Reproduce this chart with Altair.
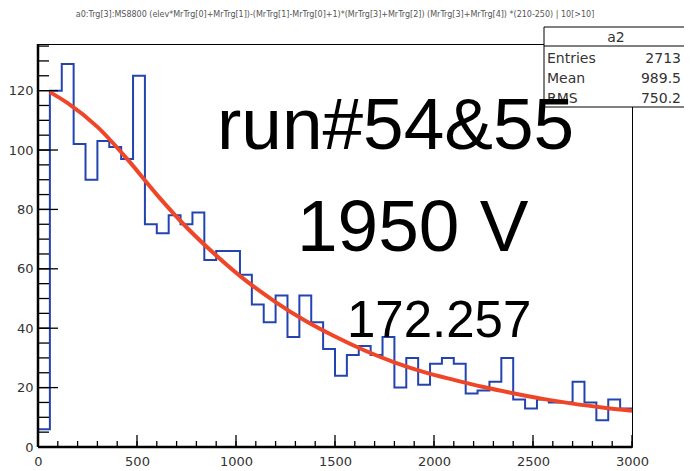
import altair as alt
import pandas as pd

# ---------------- data ----------------
bin_width = 60
counts = [6, 120, 129, 102, 90, 103, 101, 97, 125, 75,
          72, 78, 75, 79, 63, 66, 66, 58, 48, 42,
          51, 37, 51, 42, 33, 24, 31, 34, 31, 37,
          20, 30, 21, 28, 30, 28, 18, 19, 22, 30,
          16, 13, 16, 15, 15, 22, 15, 9, 16, 13]

fit_x = [60, 150, 300, 450, 600, 750, 900, 1050, 1200, 1350, 1500,
         1650, 1800, 1950, 2100, 2250, 2400, 2550, 2700, 2850, 3000]
fit_y = [119.5, 115.8, 107.8, 97.0, 85.0, 74.0, 64.5, 56.0, 48.8, 42.5, 37.2,
         32.5, 28.5, 25.2, 22.6, 20.2, 18.1, 16.2, 14.6, 13.3, 12.2]

x_label_values = [0, 500, 1000, 1500, 2000, 2500, 3000]
y_label_values = [0, 20, 40, 60, 80, 100, 120]
x_minor_ticks = list(range(0, 3001, 100))
y_minor_ticks = list(range(0, 136, 5))

stats_title = "a2"
stats_names = ["Entries", "Mean", "RMS"]
stats_values = ["2713", "989.5", "750.2"]

title_text = ("a0:Trg[3]:MS8800 (elev*MrTrg[0]+MrTrg[1])-(MrTrg[1]-MrTrg[0]+1)*(MrTrg[3]+MrTrg[2]) "
              "(MrTrg[3]+MrTrg[4]) *(210-250) | 10[>10]")
label1 = "run#54&55"
label2 = "1950 V"
label3 = "172.257"

# ---------------- build tables ----------------
edges = [i * bin_width for i in range(len(counts) + 1)]
hist_df = pd.DataFrame({"x": edges, "y": counts + [counts[-1]]})
fit_df = pd.DataFrame({"x": fit_x, "y": fit_y})
one = pd.DataFrame({"a": [0]})

W, H = 594, 403
xs = alt.Scale(domain=[0, 3000], nice=False, zero=False)
ys = alt.Scale(domain=[0, 135.7], nice=False, zero=True)

LABEL_FONT = "DejaVu Sans"
BIG_FONT = "Liberation Sans"

hist = alt.Chart(hist_df).mark_line(
    interpolate="step-after", color="#2344b0", strokeWidth=2
).encode(
    x=alt.X("x:Q", scale=xs, axis=alt.Axis(values=x_label_values, tickSize=0, domain=False,
                                            grid=False, labelFontSize=13, labelFont=LABEL_FONT,
                                            labelColor="#333", labelPadding=8, title=None,
                                            labelFlush=False, format="d")),
    y=alt.Y("y:Q", scale=ys, axis=alt.Axis(values=y_label_values, tickSize=0, domain=False,
                                            grid=False, labelFontSize=13, labelFont=LABEL_FONT,
                                            labelColor="#333", labelPadding=5, title=None,
                                            labelFlush=False, format="d")),
)

fit = alt.Chart(fit_df).mark_line(
    interpolate="monotone", color="#f04628", strokeWidth=4
).encode(x=alt.X("x:Q", scale=xs), y=alt.Y("y:Q", scale=ys))


def xticks(vals, length):
    return alt.Chart(pd.DataFrame({"t": vals})).mark_rule(color="black", strokeWidth=1.3).encode(
        x=alt.X("t:Q", scale=xs), y=alt.value(H), y2=alt.value(H - length))


def yticks(vals, length):
    return alt.Chart(pd.DataFrame({"t": vals})).mark_rule(color="black", strokeWidth=1.3).encode(
        y=alt.Y("t:Q", scale=ys), x=alt.value(0), x2=alt.value(length))


x_major = xticks(x_label_values, 12)
x_minor = xticks(x_minor_ticks, 6)
y_major = yticks(y_label_values, 20)
y_minor = yticks(y_minor_ticks, 11)

left_axis = alt.Chart(one).mark_rule(color="black", strokeWidth=2.5).encode(
    x=alt.value(0), y=alt.value(0), y2=alt.value(H))
bottom_axis = alt.Chart(one).mark_rule(color="black", strokeWidth=2.5).encode(
    x=alt.value(0), x2=alt.value(W), y=alt.value(H))


def txt(s, x, y, size, align="left", font=LABEL_FONT, color="#333", baseline="alphabetic"):
    return alt.Chart(one).mark_text(text=s, align=align, baseline=baseline, fontSize=size,
                                    font=font, color=color).encode(x=alt.value(x), y=alt.value(y))


title = txt(title_text, 297, -29, 8, align="center", color="#555", baseline="middle")

box = alt.Chart(one).mark_rect(fill="white", stroke="black", strokeWidth=1).encode(
    x=alt.value(506), x2=alt.value(680), y=alt.value(-17), y2=alt.value(63))
box_sep = alt.Chart(one).mark_rule(color="black", strokeWidth=1).encode(
    x=alt.value(506), x2=alt.value(680), y=alt.value(2))

stats_layers = [txt(stats_title, 578, -6.5, 14, align="center", baseline="middle")]
for i, (n, v) in enumerate(zip(stats_names, stats_values)):
    yy = 15 + 20 * i
    stats_layers.append(txt(n, 509, yy, 14, baseline="middle"))
    stats_layers.append(txt(v, 643, yy, 14, align="right", baseline="middle"))

big1 = txt(label1, 179, 105, 73, font=BIG_FONT, color="black")
big2 = txt(label2, 259, 207, 73, font=BIG_FONT, color="black")
big3 = txt(label3, 309, 293, 51, font=BIG_FONT, color="black")

chart = alt.layer(
    hist, fit, x_minor, x_major, y_minor, y_major, left_axis, bottom_axis,
    title, box, box_sep, *stats_layers, big1, big2, big3
).properties(
    width=W, height=H,
    autosize=alt.AutoSizeParams(type="none"),
    padding={"left": 30, "top": 36, "right": 52, "bottom": 24},
    background="white",
).configure_view(stroke="black", strokeWidth=1)

chart.save("out.html", embed_options={"renderer": "svg", "actions": False})
